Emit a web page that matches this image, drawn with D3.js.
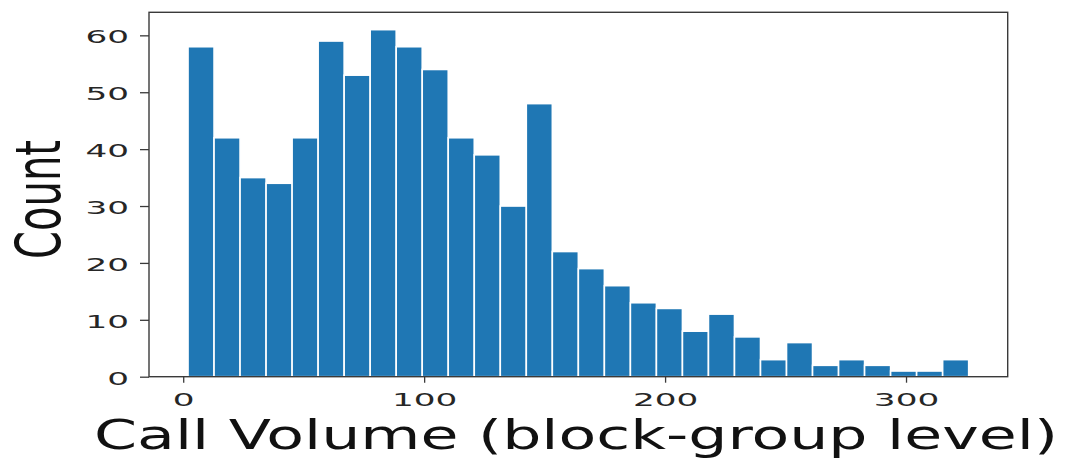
<!DOCTYPE html>
<html>
<head>
<meta charset="utf-8">
<script src="https://cdn.jsdelivr.net/npm/d3@7"></script>
<style>
  html, body { margin: 0; padding: 0; background: #fff; }
  svg { display: block; font-family: "DejaVu Sans", sans-serif; }
</style>
</head>
<body>
<svg id="chart" width="1066" height="459"></svg>
<script>
// Histogram of call volume per block group: 30 equal-width bins
const binLo = 2;
const binHi = 326;
const counts = [58, 42, 35, 34, 42, 59, 53, 61, 58, 54,
                42, 39, 30, 48, 22, 19, 16, 13, 12, 8,
                11, 7, 3, 6, 2, 3, 2, 1, 1, 3];
const xTicks = [0, 100, 200, 300];
const yTicks = [0, 10, 20, 30, 40, 50, 60];
const xLabel = "Call Volume (block-group level)";
const yLabel = "Count";

const nBins = counts.length;
const binW = (binHi - binLo) / nBins;
const bins = counts.map((c, i) => ({ x0: binLo + i * binW, x1: binLo + (i + 1) * binW, count: c }));

const plot = { left: 149, top: 12.3, right: 1007.7, bottom: 376.7 };
const pad = 0.05 * (binHi - binLo);

const x = d3.scaleLinear()
  .domain([binLo - pad, binHi + pad])
  .range([plot.left, plot.right]);
const y = d3.scaleLinear()
  .domain([0, d3.max(counts) * 1.05])
  .range([plot.bottom, plot.top]);

const svg = d3.select("#chart");

// bars
svg.append("g")
  .selectAll("rect")
  .data(bins)
  .join("rect")
  .attr("x", d => x(d.x0))
  .attr("y", d => y(d.count))
  .attr("width", d => x(d.x1) - x(d.x0))
  .attr("height", d => y(0) - y(d.count))
  .attr("fill", "#1f77b4")
  .attr("stroke", "#ffffff")
  .attr("stroke-width", 1.6);

// frame
svg.append("rect")
  .attr("x", plot.left)
  .attr("y", plot.top)
  .attr("width", plot.right - plot.left)
  .attr("height", plot.bottom - plot.top)
  .attr("fill", "none")
  .attr("stroke", "#3a3a3a")
  .attr("stroke-width", 1.4);

const tickFont = 18.5;
const stretch = 1.85;

// x axis
const gx = svg.append("g")
  .attr("transform", `translate(0,${plot.bottom})`)
  .call(d3.axisBottom(x).tickValues(xTicks).tickSize(6).tickFormat(d3.format("d")));
gx.select(".domain").remove();
gx.selectAll(".tick line").attr("stroke", "#3a3a3a").attr("stroke-width", 1.3);
gx.selectAll(".tick text")
  .attr("y", null).attr("dy", null)
  .attr("transform", `translate(0,29.2) scale(${stretch},1)`)
  .attr("font-size", tickFont)
  .attr("font-family", "DejaVu Sans")
  .attr("fill", "#262626");

// y axis
const gy = svg.append("g")
  .attr("transform", `translate(${plot.left},0)`)
  .call(d3.axisLeft(y).tickValues(yTicks).tickSize(9).tickFormat(d3.format("d")));
gy.select(".domain").remove();
gy.selectAll(".tick line").attr("stroke", "#3a3a3a").attr("stroke-width", 1.3);
gy.selectAll(".tick text")
  .attr("x", null).attr("dy", "0.4em")
  .attr("transform", `translate(-20,0) scale(${stretch},1)`)
  .attr("text-anchor", "end")
  .attr("font-size", tickFont)
  .attr("font-family", "DejaVu Sans")
  .attr("fill", "#262626");

// axis titles
svg.append("text")
  .attr("x", 94)
  .attr("y", 448.5)
  .attr("font-size", 41)
  .attr("textLength", 964)
  .attr("lengthAdjust", "spacingAndGlyphs")
  .attr("fill", "#111")
  .text(xLabel);

svg.append("text")
  .attr("transform", "translate(60,199.5) rotate(-90)")
  .attr("text-anchor", "middle")
  .attr("font-size", 62)
  .attr("textLength", 119)
  .attr("lengthAdjust", "spacingAndGlyphs")
  .attr("fill", "#111")
  .text(yLabel);
</script>
</body>
</html>
